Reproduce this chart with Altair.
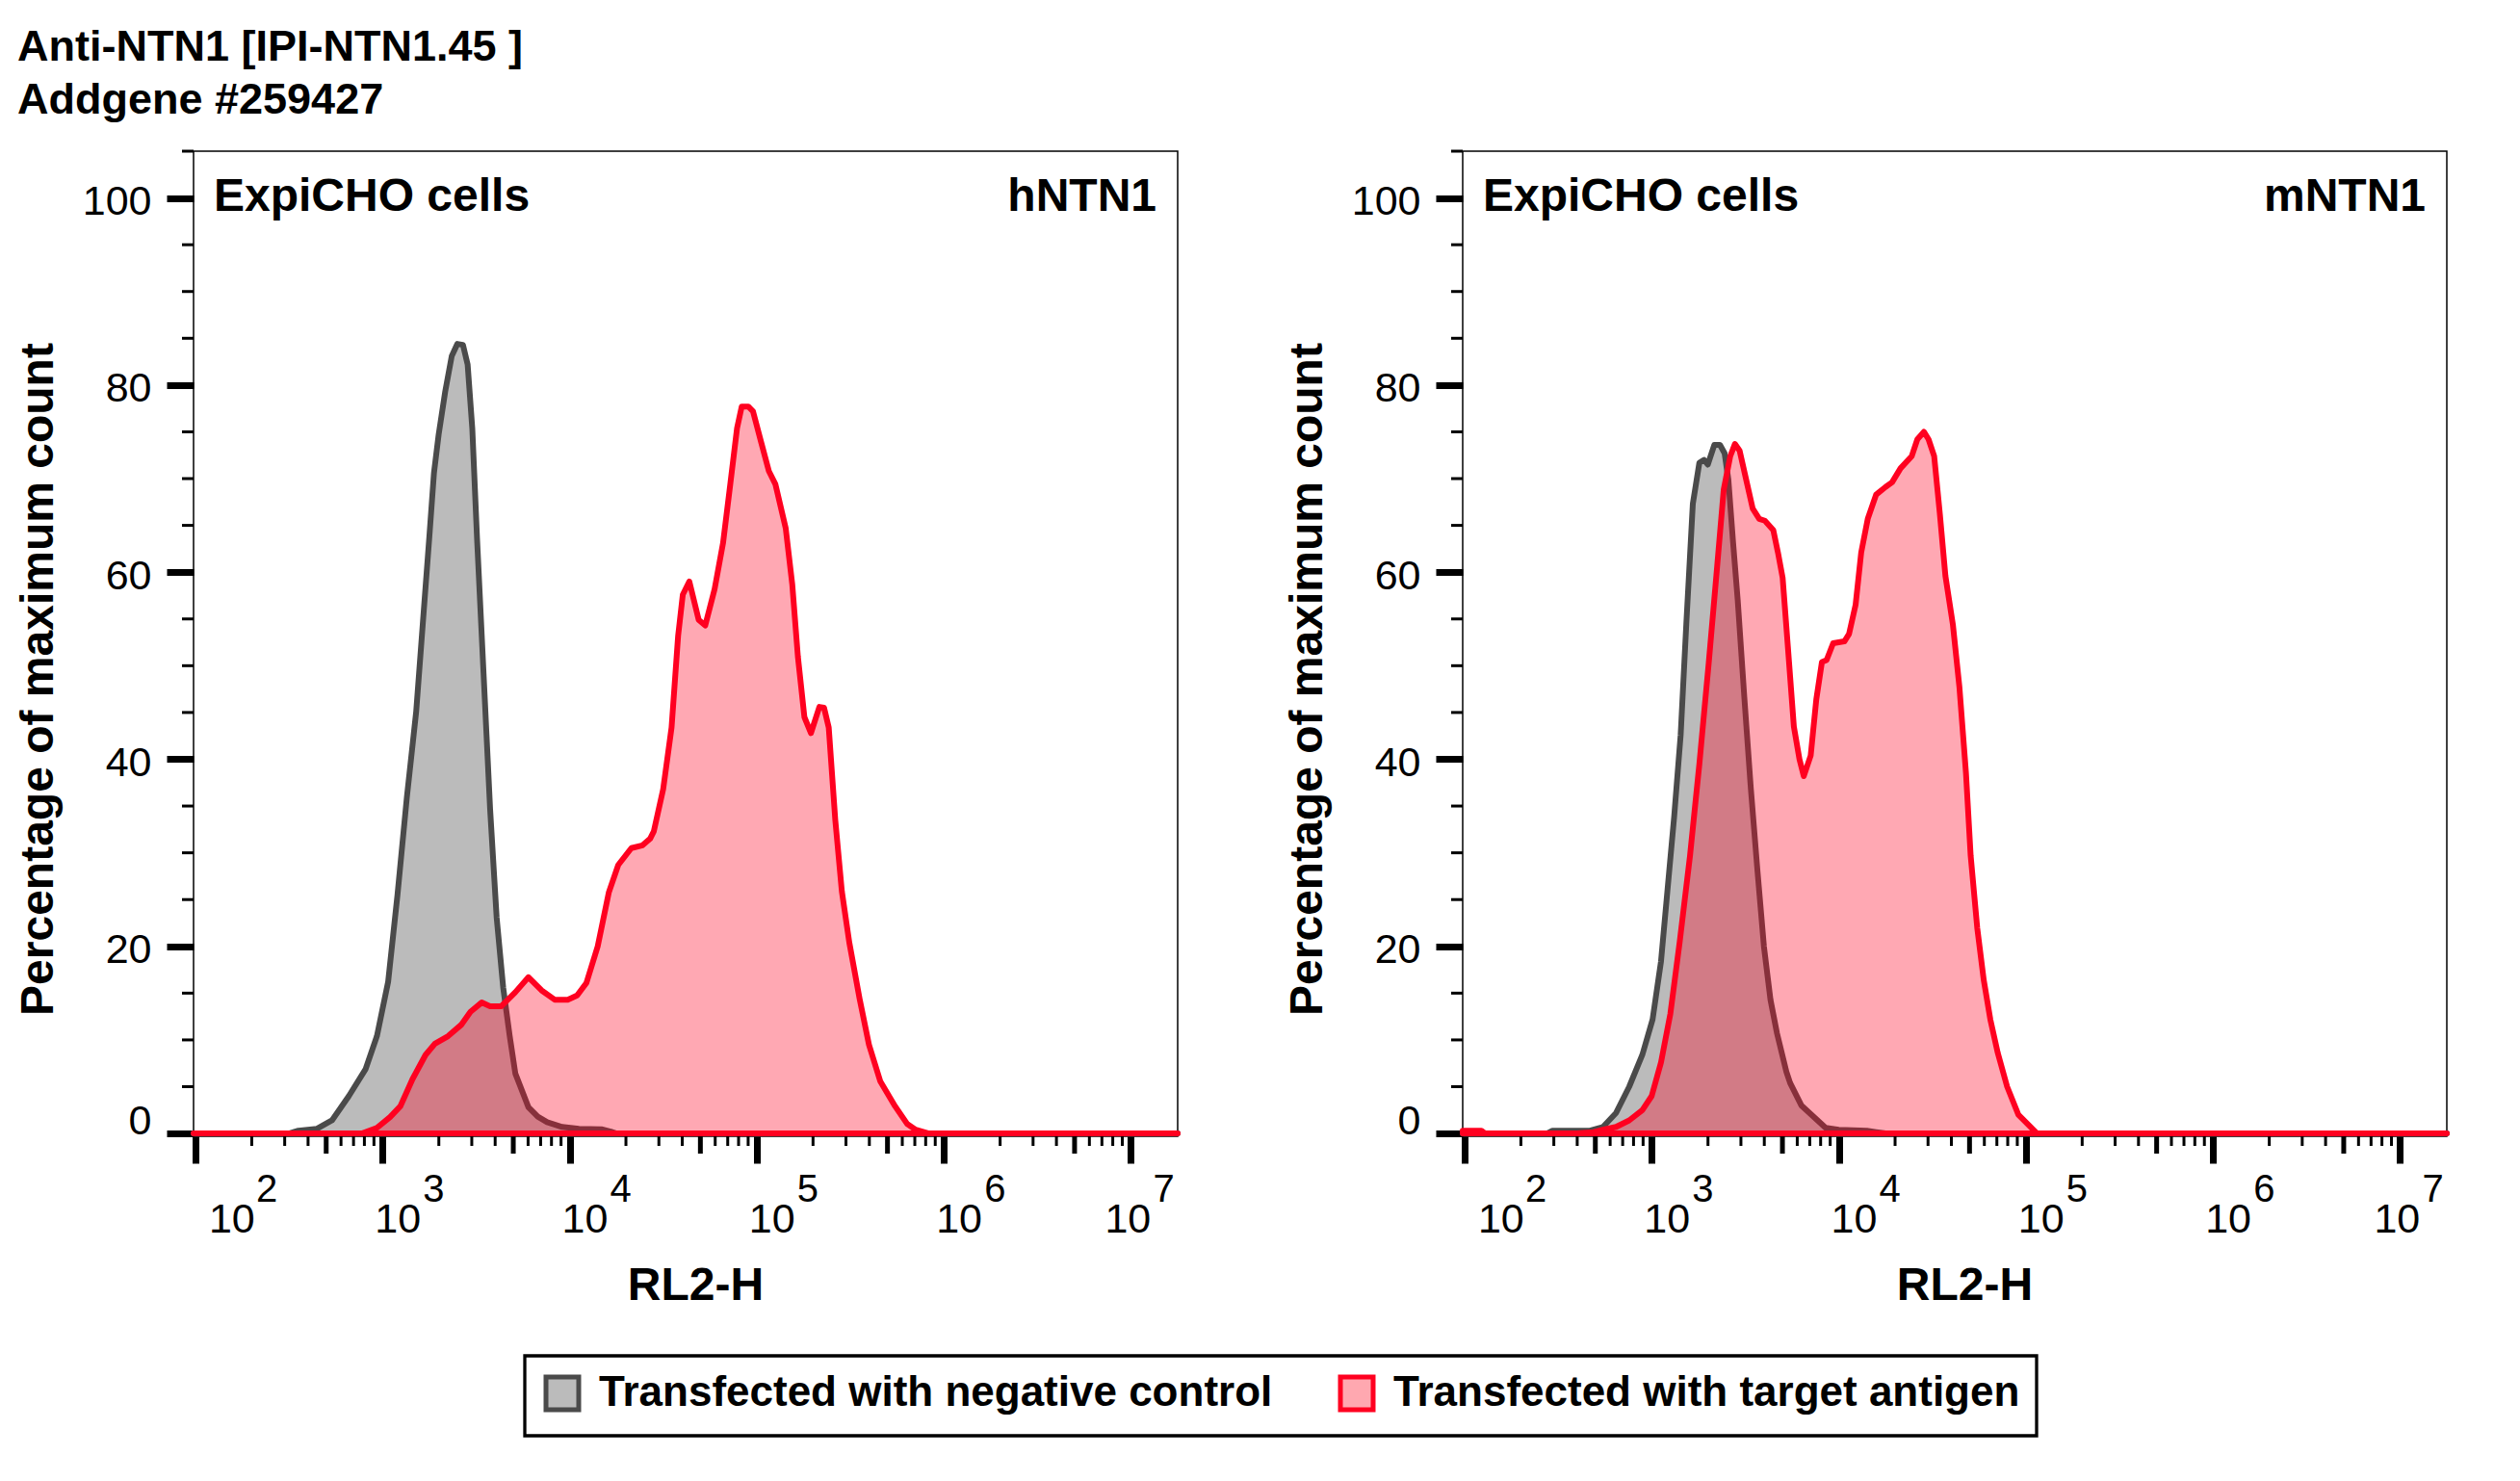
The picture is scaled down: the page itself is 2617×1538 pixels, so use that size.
import altair as alt
import pandas as pd

NEG = "Transfected with negative control"
TGT = "Transfected with target antigen"
TITLE_LINES = ["Anti-NTN1 [IPI-NTN1.45 ]", "Addgene #259427"]
CELLS = "ExpiCHO cells"
TARGETS = ["hNTN1", "mNTN1"]
X_TITLE = "RL2-H"
Y_TITLE = "Percentage of maximum count"

# tick values / labels
EXPONENTS = [2, 3, 4, 5, 6, 7]
TICK_BASE = "10"
TICK_EXP = ["2", "3", "4", "5", "6", "7"]
MAJOR_Y = [0, 20, 40, 60, 80, 100]
MINOR_Y = [5, 10, 15, 25, 30, 35, 45, 50, 55, 65, 70, 75, 85, 90, 95, 105]
MINOR_MULT = [2, 3, 4, 6, 7, 8, 9]
MID_MULT = [5]

# curves: log10(RL2-H) and percentage of maximum count
LG_E = [1.99, 2.50, 2.55, 2.65, 2.73, 2.82, 2.91, 2.97, 3.03, 3.08, 3.13, 3.18, 3.215, 3.25,
        3.275, 3.30, 3.335, 3.37, 3.40, 3.43, 3.455, 3.48, 3.505, 3.54, 3.575, 3.61, 3.645,
        3.68, 3.71, 3.78, 3.83, 3.88, 3.96, 4.05, 4.17, 4.22, 4.25, 7.25]
LG_Y = [0, 0, 0.3, 0.5, 1.4, 4.0, 6.9, 10.4, 16.2, 25.5, 35.9, 45.1, 54.4, 63.7,
        70.6, 74.7, 79.3, 83.1, 84.4, 84.3, 82.2, 75.3, 63.7, 49.2, 34.7, 23.1, 15.6,
        10.4, 6.4, 2.8, 1.8, 1.2, 0.7, 0.5, 0.45, 0.2, 0, 0]

LR_E = [1.99, 2.89, 2.97, 3.04, 3.095, 3.16, 3.23, 3.28, 3.35, 3.42, 3.47, 3.53, 3.575, 3.635,
        3.71, 3.78, 3.85, 3.92, 3.99, 4.04, 4.09, 4.15, 4.21, 4.26, 4.33, 4.39, 4.43, 4.45,
        4.50, 4.545, 4.58, 4.605, 4.64, 4.69, 4.725, 4.775, 4.82, 4.86, 4.895, 4.92, 4.955,
        4.98, 5.025, 5.065, 5.10, 5.155, 5.19, 5.22, 5.255, 5.29, 5.335, 5.36, 5.385, 5.42,
        5.455, 5.495, 5.55, 5.60, 5.66, 5.74, 5.805, 5.85, 5.92, 7.25]
LR_Y = [0, 0, 0.6, 1.75, 2.9, 5.8, 8.4, 9.6, 10.4, 11.6, 13.0, 14.0, 13.6, 13.6,
        15.1, 16.7, 15.3, 14.3, 14.3, 14.75, 16.1, 20.0, 25.8, 28.7, 30.5, 30.8, 31.5, 32.3,
        36.8, 43.4, 53.2, 57.6, 59.0, 54.9, 54.3, 58.2, 63.1, 69.6, 75.4, 77.7, 77.7,
        77.2, 73.8, 70.8, 69.4, 64.7, 58.7, 51.0, 44.5, 42.8, 45.6, 45.5, 43.4, 33.5,
        25.9, 20.4, 14.4, 9.5, 5.6, 2.9, 1.0, 0.4, 0, 0]

RG_E = [1.99, 2.44, 2.47, 2.67, 2.74, 2.81, 2.88, 2.95, 3.005, 3.05, 3.085, 3.12, 3.155, 3.185,
        3.22, 3.255, 3.28, 3.30, 3.335, 3.365, 3.39, 3.41, 3.435, 3.46, 3.495, 3.53, 3.565,
        3.60, 3.635, 3.67, 3.72, 3.74, 3.80, 3.87, 3.93, 4.0, 4.15, 4.2, 4.25, 7.25]
RG_Y = [0, 0, 0.3, 0.3, 0.7, 2.2, 5.0, 8.4, 12.2, 18.4, 26.1, 33.8, 42.6, 54.4,
        67.3, 71.7, 72.0, 71.5, 73.6, 73.6, 72.7, 69.9, 63.2, 57.0, 46.7, 36.9, 28.2,
        20.0, 14.3, 10.7, 6.6, 5.4, 3.0, 1.7, 0.6, 0.4, 0.3, 0.15, 0, 0]

RR_E = [1.99, 2.09, 2.11, 2.6, 2.69, 2.74, 2.81, 2.88, 2.95, 3.0, 3.05, 3.10, 3.15, 3.205,
        3.255, 3.305, 3.35, 3.385, 3.42, 3.445, 3.47, 3.505, 3.54, 3.575, 3.605, 3.65, 3.675,
        3.70, 3.73, 3.76, 3.79, 3.813, 3.85, 3.88, 3.91, 3.935, 3.97, 4.03, 4.055, 4.09, 4.12,
        4.155, 4.20, 4.25, 4.285, 4.33, 4.39, 4.42, 4.455, 4.48, 4.51, 4.54, 4.57, 4.61,
        4.645, 4.68, 4.705, 4.74, 4.775, 4.81, 4.85, 4.90, 4.96, 5.06, 7.25]
RR_Y = [0.3, 0.3, 0, 0, 0.15, 0.4, 0.7, 1.4, 2.5, 4.0, 7.6, 12.8, 20.5, 29.7,
        39.5, 50.3, 60.6, 68.8, 72.4, 73.7, 73.0, 69.9, 66.8, 65.7, 65.5, 64.5, 62.1,
        59.4, 51.5, 43.5, 40.0, 38.2, 40.4, 46.4, 50.4, 50.6, 52.4, 52.6, 53.4, 56.5, 62.1,
        65.7, 68.3, 69.1, 69.6, 71.1, 72.4, 74.2, 75.0, 74.2, 72.4, 66.3, 59.6, 54.4,
        47.7, 38.5, 29.7, 22.0, 16.4, 12.2, 8.6, 5.0, 2.0, 0, 0]

FONT = "Liberation Sans"
W, H = 1022, 1023
X_DOMAIN = [10 ** 1.99, 10 ** 7.25]
Y_DOMAIN = [-0.3, 105]
SERIES = [NEG, TGT]


def curve(exps, vals, series):
    return pd.DataFrame({"rl2h": [10 ** e for e in exps], "pct": vals, "series": series})


tick_df = pd.DataFrame({"rl2h": [10 ** e for e in EXPONENTS], "base": TICK_BASE, "exp": TICK_EXP})
minor_x_df = pd.DataFrame({"rl2h": [m * 10 ** k for k in EXPONENTS[:-1] for m in MINOR_MULT]})
mid_x_df = pd.DataFrame({"rl2h": [m * 10 ** k for k in EXPONENTS[:-1] for m in MID_MULT]})
minor_y_df = pd.DataFrame({"pct": MINOR_Y})

LEG = alt.Legend(
    title=None, orient="none", legendX=344, legendY=1251, direction="horizontal",
    symbolType="square", symbolSize=1156, symbolStrokeWidth=5,
    labelFont=FONT, labelFontSize=44, labelFontWeight="bold", labelColor="black",
    labelLimit=1200, labelOffset=16, columnPadding=60, padding=17,
)


def xscale():
    return alt.Scale(type="log", domain=X_DOMAIN, nice=False)


def yscale():
    return alt.Scale(domain=Y_DOMAIN, nice=False, zero=False)


X_AXIS = alt.Axis(values=[10 ** e for e in EXPONENTS], tickSize=28, tickWidth=7, labels=False,
                  title=X_TITLE, titleFontSize=48, titleFontWeight="bold", titleX=521, titleY=169,
                  titleAlign="center", titleBaseline="alphabetic", orient="bottom",
                  domain=False, grid=False)
Y_AXIS = alt.Axis(values=MAJOR_Y, tickSize=28, tickWidth=7, labelFontSize=43, labelPadding=16,
                  labelOffset={"condition": {"test": "datum.value === 0", "value": -13}, "value": 4},
                  title=Y_TITLE, titleFontSize=48, titleFontWeight="bold", titleX=-147, titleY=548,
                  titleAngle=-90, titleAlign="center", titleBaseline="alphabetic",
                  orient="left", domain=False, grid=False)


def X():
    return alt.X("rl2h:Q", scale=xscale(), axis=X_AXIS, title=X_TITLE)


def Y():
    return alt.Y("pct:Q", scale=yscale(), axis=Y_AXIS, title=Y_TITLE)


def panel(gray_df, red_df, target):
    fill = alt.Fill("series:N", scale=alt.Scale(domain=SERIES, range=["#bbbbbb", "#ffa8b0"]), legend=LEG)
    stroke = alt.Stroke("series:N", scale=alt.Scale(domain=SERIES, range=["#4a4a4a", "#ff0020"]), legend=LEG)

    gray = alt.Chart(gray_df).mark_area(strokeWidth=6, strokeJoin="round").encode(
        x=X(), y=Y(), fill=fill, stroke=stroke,
    )
    red = alt.Chart(red_df).mark_area(strokeWidth=6, strokeJoin="round", fill="#ff0020",
                                      fillOpacity=0.34).encode(
        x=X(), y=Y(), stroke=stroke,
    )

    minor_x = alt.Chart(minor_x_df).mark_rule(color="black", strokeWidth=3).encode(
        x=X(), y=alt.value(H), y2=alt.value(H + 10))
    mid_x = alt.Chart(mid_x_df).mark_rule(color="black", strokeWidth=5).encode(
        x=X(), y=alt.value(H), y2=alt.value(H + 18))
    minor_y = alt.Chart(minor_y_df).mark_rule(color="black", strokeWidth=3).encode(
        y=Y(), x=alt.value(-12), x2=alt.value(0))

    labels = []
    groups = [("datum.rl2h < 500", 14, 63), ("datum.rl2h > 500 && datum.rl2h < 5000000", -8, 42),
              ("datum.rl2h > 5000000", -27, 23)]
    for test, dx_base, dx_exp in groups:
        base = alt.Chart(tick_df).transform_filter(test).mark_text(
            font=FONT, fontSize=43, align="left", baseline="alphabetic", dx=dx_base, color="black"
        ).encode(x=X(), y=alt.value(1123), text="base:N")
        sup = alt.Chart(tick_df).transform_filter(test).mark_text(
            font=FONT, fontSize=40, align="left", baseline="alphabetic", dx=dx_exp, color="black"
        ).encode(x=X(), y=alt.value(1091), text="exp:N")
        labels += [base, sup]

    cells = alt.Chart(pd.DataFrame({"t": [CELLS]})).mark_text(
        font=FONT, fontSize=48, fontWeight="bold", align="left", baseline="alphabetic", color="black"
    ).encode(x=alt.value(21), y=alt.value(62), text="t:N")
    tgt = alt.Chart(pd.DataFrame({"t": [target]})).mark_text(
        font=FONT, fontSize=48, fontWeight="bold", align="right", baseline="alphabetic", color="black"
    ).encode(x=alt.value(1000), y=alt.value(62), text="t:N")

    return alt.layer(gray, red, minor_x, mid_x, minor_y, *labels, cells, tgt).properties(width=W, height=H)


left = panel(curve(LG_E, LG_Y, NEG), curve(LR_E, LR_Y, TGT), TARGETS[0])
right = panel(curve(RG_E, RG_Y, NEG), curve(RR_E, RR_Y, TGT), TARGETS[1])

chart = alt.hconcat(left, right, spacing=296, bounds="flush").properties(
    title=alt.TitleParams(text=TITLE_LINES, anchor="start", frame="group", fontSize=45,
                          fontWeight="bold", font=FONT, lineHeight=55, dx=-183, offset=28,
                          color="black"),
    padding={"left": 7, "top": 18, "right": 20, "bottom": 20},
).configure_view(stroke="black", strokeWidth=1.5).configure_axis(
    labelFont=FONT, titleFont=FONT, labelColor="black", titleColor="black", tickColor="black"
).configure_legend(strokeColor="black", strokeWidth=3.3)

chart.save("out.html", embed_options={"renderer": "svg", "actions": False})
